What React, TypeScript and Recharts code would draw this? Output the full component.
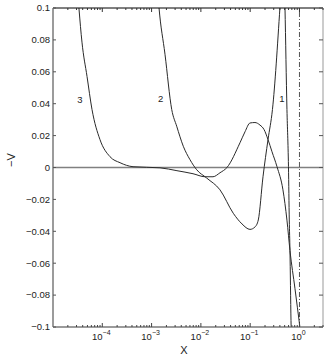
import {
  ComposedChart,
  Line,
  XAxis,
  YAxis,
  ReferenceLine,
  ReferenceDot,
} from "recharts";

// curve 1: the steep one just left of x = 1
const curve1X = [0.504, 0.508, 0.557, 0.598, 0.621, 0.641, 0.673, 0.679];
const curve1Y = [0.1057, 0.1006, 0.0364, 0.0005, -0.0329, -0.052, -0.096, -0.102];

// curve 2
const curve2X = [
  1.38e-3, 1.41e-3, 1.87e-3, 2.56e-3, 3.23e-3, 4.4e-3, 6.01e-3, 8.22e-3,
  0.0131, 0.0244, 0.0454, 0.0683, 0.0991, 0.125, 0.146, 0.182, 0.23, 0.283,
  0.402, 0.412,
];
const curve2Y = [
  0.104, 0.1006, 0.071, 0.0364, 0.0259, 0.0133, 0.0049, -0.0014, -0.0066,
  -0.014, -0.0287, -0.0354, -0.0388, -0.0373, -0.0329, -0.0058, 0.0175,
  0.0364, 0.1006, 0.1057,
];

// curve 3
const curve3X = [
  3.14e-5, 3.37e-5, 3.87e-5, 4.9e-5, 6.18e-5, 8.97e-5, 1.43e-4, 2.29e-4,
  4.2e-4, 1.48e-3, 3.27e-3, 6.92e-3, 0.0121, 0.0176, 0.0244, 0.0338, 0.0621,
  0.0785, 0.0991, 0.125, 0.158, 0.191, 0.23, 0.277, 0.35, 0.462, 0.557,
  0.641, 0.811, 1.02, 1.07,
];
const curve3Y = [
  0.112, 0.0994, 0.0786, 0.0571, 0.0364, 0.0175, 0.0068, 0.003, 0.0005,
  -0.0002, -0.002, -0.0039, -0.0058, -0.0058, -0.0033, 0.0, 0.0155, 0.0224,
  0.0279, 0.0282, 0.0266, 0.0238, 0.0175, 0.0099, 0.0005, -0.014, -0.033,
  -0.052, -0.076, -0.1, -0.105,
];

const curveNames = ["1", "2", "3"];
const nameX = [0.442, 1.53e-3, 3.53e-5];
const nameY = [0.0433, 0.0433, 0.0422];

const majorX = [1e-4, 1e-3, 1e-2, 1e-1, 1];
const majorExp = ["\u22124", "\u22123", "\u22122", "\u22121", "0"];
const minorX = [
  2e-5, 3e-5, 4e-5, 5e-5, 6e-5, 7e-5, 8e-5, 9e-5,
  2e-4, 3e-4, 4e-4, 5e-4, 6e-4, 7e-4, 8e-4, 9e-4,
  2e-3, 3e-3, 4e-3, 5e-3, 6e-3, 7e-3, 8e-3, 9e-3,
  2e-2, 3e-2, 4e-2, 5e-2, 6e-2, 7e-2, 8e-2, 9e-2,
  0.2, 0.3, 0.4, 0.5, 0.6, 0.7, 0.8, 0.9,
  2, 3,
];
const yTicks = [-0.1, -0.08, -0.06, -0.04, -0.02, 0, 0.02, 0.04, 0.06, 0.08, 0.1];
const yTickLabels = [
  "\u22120.1", "\u22120.08", "\u22120.06", "\u22120.04", "\u22120.02", "0",
  "0.02", "0.04", "0.06", "0.08", "0.1",
];

const toPoints = (xs: number[], ys: number[]) =>
  xs.map((x, i) => ({ x, y: ys[i] }));

const FONT = "'Liberation Sans', Arial, sans-serif";
const xTicks = [...majorX, ...minorX].sort((a, b) => a - b);

function BottomTick({ x, y, payload }: any) {
  const i = majorX.indexOf(payload.value);
  const major = i >= 0;
  return (
    <g>
      <line x1={x} x2={x} y1={y} y2={y - (major ? 4 : 2)} stroke="#444" />
      {major && (
        <text x={x - 1} y={y + 13} fontSize={9.5} fontFamily={FONT} fill="#222" textAnchor="middle">
          10
          <tspan dy={-5} fontSize={7}>{majorExp[i]}</tspan>
        </text>
      )}
    </g>
  );
}

function TopTick({ x, y, payload }: any) {
  const major = majorX.includes(payload.value);
  return <line x1={x} x2={x} y1={y} y2={y + (major ? 4 : 2)} stroke="#333" />;
}

function LeftTick({ x, y, payload }: any) {
  const i = yTicks.indexOf(payload.value);
  return (
    <g>
      <line x1={x} x2={x + 3} y1={y} y2={y} stroke="#555" />
      <text x={x - 3} y={y} dy={3.3} fontSize={9.5} fontFamily={FONT} fill="#222" textAnchor="end">
        {yTickLabels[i]}
      </text>
    </g>
  );
}

function RightTick({ x, y }: any) {
  return <line x1={x} x2={x - 4} y1={y} y2={y} stroke="#555" />;
}

export default function App() {
  const series = [
    toPoints(curve1X, curve1Y),
    toPoints(curve2X, curve2Y),
    toPoints(curve3X, curve3Y),
  ];

  return (
    <div style={{ position: "absolute", left: 0, top: 0, background: "#fff" }}>
      <ComposedChart
        width={327}
        height={359}
        margin={{ top: 7, right: 3, left: 52, bottom: 31 }}
      >
        <XAxis
          xAxisId="b"
          dataKey="x"
          type="number"
          scale="log"
          domain={[1e-5, 3]}
          allowDataOverflow
          ticks={xTicks}
          interval={0}
          height={1}
          tickSize={0}
          tickMargin={0}
          tickLine={false}
          tick={<BottomTick />}
          axisLine={{ stroke: "#7a7a7a", strokeWidth: 1.5 }}
        />
        <XAxis
          xAxisId="t"
          orientation="top"
          dataKey="x"
          type="number"
          scale="log"
          domain={[1e-5, 3]}
          allowDataOverflow
          ticks={xTicks}
          interval={0}
          height={1}
          tickSize={0}
          tickMargin={0}
          tickLine={false}
          tick={<TopTick />}
          axisLine={{ stroke: "#000", strokeWidth: 1 }}
        />
        <YAxis
          yAxisId="l"
          type="number"
          domain={[-0.1, 0.1]}
          allowDataOverflow
          ticks={yTicks}
          interval={0}
          width={1}
          tickSize={0}
          tickMargin={0}
          tickLine={false}
          tick={<LeftTick />}
          axisLine={{ stroke: "#7a7a7a", strokeWidth: 1.5 }}
        />
        <YAxis
          yAxisId="r"
          orientation="right"
          type="number"
          domain={[-0.1, 0.1]}
          allowDataOverflow
          ticks={yTicks}
          interval={0}
          width={1}
          tickSize={0}
          tickMargin={0}
          tickLine={false}
          tick={<RightTick />}
          axisLine={{ stroke: "#999", strokeWidth: 1 }}
        />

        <ReferenceLine xAxisId="b" yAxisId="l" y={0} stroke="#808080" strokeWidth={1.5} />
        <ReferenceLine
          xAxisId="b"
          yAxisId="l"
          x={1}
          stroke="#555"
          strokeDasharray="5 2 1 2"
        />

        {series.map((data, i) => (
          <Line
            key={curveNames[i]}
            xAxisId="b"
            yAxisId="l"
            data={data}
            dataKey="y"
            type="monotone"
            stroke="#2a2a2a"
            strokeWidth={1}
            dot={false}
            activeDot={false}
            isAnimationActive={false}
          />
        ))}

        {curveNames.map((name, i) => (
          <ReferenceDot
            key={"lbl" + name}
            xAxisId="b"
            yAxisId="l"
            x={nameX[i]}
            y={nameY[i]}
            r={0}
            fill="none"
            stroke="none"
            label={({ viewBox }: any) => (
              <text
                x={viewBox.x + viewBox.width / 2}
                y={viewBox.y + viewBox.height / 2}
                dy={3.3}
                textAnchor="middle"
                fontSize={9.5}
                fontFamily={FONT}
                fill="#222"
              >
                {name}
              </text>
            )}
          />
        ))}

        <text
          x={11}
          y={160}
          transform="rotate(-90 11 160)"
          textAnchor="middle"
          dominantBaseline="central"
          fontSize={11}
          fontFamily={FONT}
          fill="#222"
        >
          {"\u2212V"}
        </text>
        <text
          x={184}
          y={354}
          textAnchor="middle"
          fontSize={11}
          fontFamily={FONT}
          fill="#222"
        >
          X
        </text>
      </ComposedChart>
    </div>
  );
}
